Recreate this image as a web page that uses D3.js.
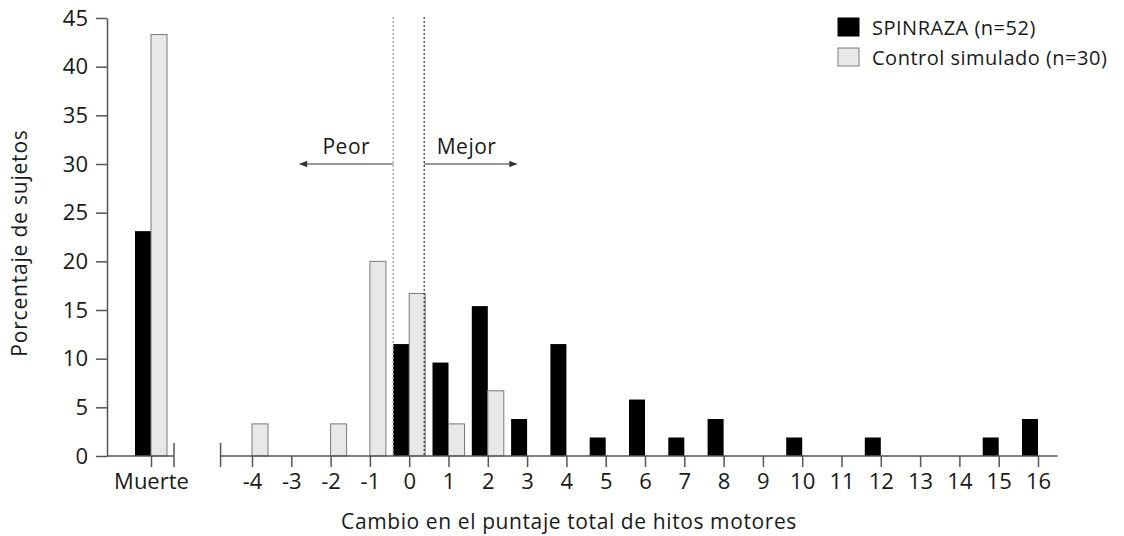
<!DOCTYPE html>
<html>
<head>
<meta charset="utf-8">
<script src="https://cdn.jsdelivr.net/npm/d3@7"></script>
<style>
  body { margin: 0; background: #fff; }
  svg text { font-family: "Open Sans", "Noto Sans", sans-serif; fill: #1a1a1a; }
</style>
</head>
<body>
<div id="chart"></div>
<script>
// change in total motor milestone score
const categories = [-4, -3, -2, -1, 0, 1, 2, 3, 4, 5, 6, 7, 8, 9, 10, 11, 12, 13, 14, 15, 16];
const spinraza = [0, 0, 0, 0, 11.5, 9.6, 15.4, 3.8, 11.5, 1.9, 5.8, 1.9, 3.8, 0, 1.9, 0, 1.9, 0, 0, 1.9, 3.8];
const control = [3.3, 0, 3.3, 20, 16.7, 3.3, 6.7, 0, 0, 0, 0, 0, 0, 0, 0, 0, 0, 0, 0, 0, 0];
const deathLabel = "Muerte";
const deathSpinraza = 23.1;
const deathControl = 43.3;
const yTicks = [0, 5, 10, 15, 20, 25, 30, 35, 40, 45];
const seriesNames = ["SPINRAZA (n=52)", "Control simulado (n=30)"];

const width = 1124,
  height = 536,
  barW = 16,
  black = "#000",
  grey = "#e8e8e8",
  greyStroke = "#7a7a7a",
  axisColor = "#555";

const svg = d3
  .select("#chart")
  .append("svg")
  .attr("width", width)
  .attr("height", height);

const y = d3.scaleLinear().domain([0, 45]).range([456, 18]);
const x = d3.scaleLinear().domain([-4, 16]).range([252, 1038]);
const xDeath = d3.scalePoint().domain([deathLabel]).range([128, 174]).padding(0.5);

// y axis
const yAxis = svg
  .append("g")
  .attr("transform", "translate(107,0)")
  .call(d3.axisLeft(y).tickValues(yTicks).tickSize(11).tickSizeOuter(0).tickPadding(8));
yAxis.selectAll("text").style("font-size", "22px");

// death panel
const deathG = svg.append("g");
deathG
  .append("rect")
  .attr("x", xDeath(deathLabel) - barW)
  .attr("y", y(deathSpinraza))
  .attr("width", barW)
  .attr("height", y(0) - y(deathSpinraza))
  .attr("fill", black);
deathG
  .append("rect")
  .attr("x", xDeath(deathLabel))
  .attr("y", y(deathControl))
  .attr("width", barW)
  .attr("height", y(0) - y(deathControl))
  .attr("fill", grey)
  .attr("stroke", greyStroke);

const deathAxis = svg
  .append("g")
  .attr("transform", `translate(0,${y(0)})`)
  .call(d3.axisBottom(xDeath).tickSize(11).tickSizeOuter(0).tickPadding(6));
deathAxis.select(".domain").remove();
deathAxis.selectAll("text").style("font-size", "22px");

// main panel bars
const barsG = svg.append("g");
barsG
  .selectAll(".spin")
  .data(categories.map((c, i) => ({ c, v: spinraza[i] })).filter((d) => d.v > 0))
  .join("rect")
  .attr("class", "spin")
  .attr("x", (d) => x(d.c) - barW)
  .attr("y", (d) => y(d.v))
  .attr("width", barW)
  .attr("height", (d) => y(0) - y(d.v))
  .attr("fill", black);
barsG
  .selectAll(".ctrl")
  .data(categories.map((c, i) => ({ c, v: control[i] })).filter((d) => d.v > 0))
  .join("rect")
  .attr("class", "ctrl")
  .attr("x", (d) => x(d.c))
  .attr("y", (d) => y(d.v))
  .attr("width", barW)
  .attr("height", (d) => y(0) - y(d.v))
  .attr("fill", grey)
  .attr("stroke", greyStroke);

const xAxis = svg
  .append("g")
  .attr("transform", `translate(0,${y(0)})`)
  .call(
    d3.axisBottom(x).tickValues(categories).tickFormat((d) => String(d)).tickSize(11).tickPadding(6)
  );
xAxis.select(".domain").remove();
xAxis.selectAll("text").style("font-size", "22px");

// baselines with end caps
const base = svg.append("g").attr("stroke", axisColor).attr("stroke-width", 1.5);
base.append("line").attr("x1", 107).attr("x2", 174).attr("y1", y(0)).attr("y2", y(0));
base.append("line").attr("x1", 174).attr("x2", 174).attr("y1", y(0) - 13).attr("y2", y(0) + 11);
base.append("line").attr("x1", x(-4.8)).attr("x2", x(16.5)).attr("y1", y(0)).attr("y2", y(0));
base.append("line").attr("x1", x(-4.8)).attr("x2", x(-4.8)).attr("y1", y(0) - 13).attr("y2", y(0) + 11);

svg.selectAll(".tick line").attr("stroke", axisColor).attr("stroke-width", 1.5);
svg.selectAll(".domain").attr("stroke", axisColor).attr("stroke-width", 1.5);

// worse / better dividers
svg
  .append("line")
  .attr("x1", x(0) - barW)
  .attr("x2", x(0) - barW)
  .attr("y1", y(45) - 1)
  .attr("y2", y(0))
  .attr("stroke", "#999")
  .attr("stroke-width", 1.2)
  .attr("stroke-dasharray", "2,2");
svg
  .append("line")
  .attr("x1", x(0) + barW - 1)
  .attr("x2", x(0) + barW - 1)
  .attr("y1", y(45) - 1)
  .attr("y2", y(0))
  .attr("stroke", "#333")
  .attr("stroke-width", 1.2)
  .attr("stroke-dasharray", "2,2");

const defs = svg.append("defs");
defs
  .append("marker")
  .attr("id", "arrow")
  .attr("viewBox", "0 0 10 10")
  .attr("refX", 9)
  .attr("refY", 5)
  .attr("markerWidth", 10)
  .attr("markerHeight", 8)
  .attr("markerUnits", "userSpaceOnUse")
  .attr("orient", "auto")
  .append("path")
  .attr("d", "M0,1L10,5L0,9Z")
  .attr("fill", "#333");

svg
  .append("line")
  .attr("x1", x(0) - barW)
  .attr("x2", x(-2.78))
  .attr("y1", y(30))
  .attr("y2", y(30))
  .attr("stroke", "#333")
  .attr("stroke-width", 1.2)
  .attr("marker-end", "url(#arrow)");
svg
  .append("line")
  .attr("x1", x(0) + barW - 1)
  .attr("x2", x(2.73))
  .attr("y1", y(30))
  .attr("y2", y(30))
  .attr("stroke", "#333")
  .attr("stroke-width", 1.2)
  .attr("marker-end", "url(#arrow)");

svg
  .append("text")
  .attr("x", x(-1.6))
  .attr("y", y(31))
  .attr("text-anchor", "middle")
  .style("font-size", "21px")
  .style("letter-spacing", "0.5px")
  .text("Peor");
svg
  .append("text")
  .attr("x", x(1.46))
  .attr("y", y(31))
  .attr("text-anchor", "middle")
  .style("font-size", "21px")
  .style("letter-spacing", "0.5px")
  .text("Mejor");

// axis titles
svg
  .append("text")
  .attr("transform", "translate(27,243) rotate(-90)")
  .attr("text-anchor", "middle")
  .style("font-size", "21px")
  .style("letter-spacing", "0.8px")
  .text("Porcentaje de sujetos");
svg
  .append("text")
  .attr("x", 569)
  .attr("y", 529)
  .attr("text-anchor", "middle")
  .style("font-size", "21px")
  .style("letter-spacing", "0.6px")
  .text("Cambio en el puntaje total de hitos motores");

// legend
const legend = svg
  .append("g")
  .selectAll("g")
  .data(seriesNames)
  .join("g")
  .attr("transform", (d, i) => `translate(838,${18 + i * 30})`);
legend
  .append("rect")
  .attr("width", 21)
  .attr("height", 18)
  .attr("fill", (d, i) => (i === 0 ? black : grey))
  .attr("stroke", (d, i) => (i === 0 ? black : greyStroke));
legend
  .append("text")
  .attr("x", 34)
  .attr("y", 17)
  .style("font-size", "20px")
  .style("letter-spacing", "0.5px")
  .text((d) => d);
</script>
</body>
</html>
